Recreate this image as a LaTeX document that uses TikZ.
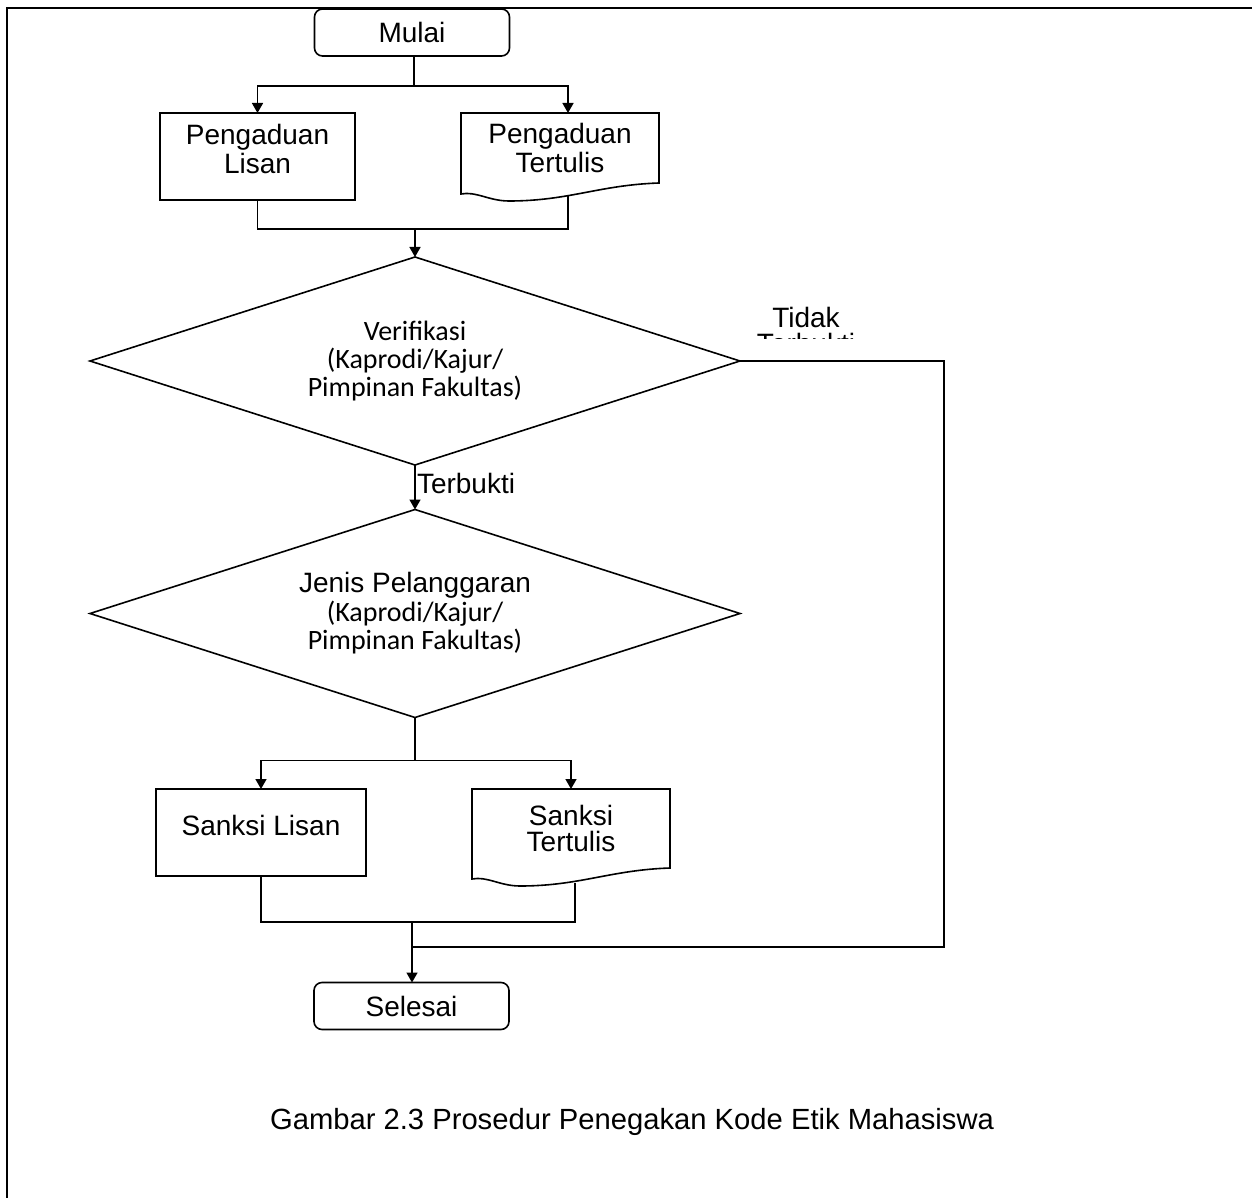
\documentclass[tikz,border=0pt]{standalone}
\usepackage{fontspec}
\setmainfont{Liberation Sans}
\newfontfamily\calfont{Carlito}
\usetikzlibrary{arrows.meta,calc,positioning,shapes.geometric}

\begin{document}
\begin{tikzpicture}[x=0.5pt,y=-0.5pt,>={Triangle[length=5pt,width=5.5pt]},line width=.8pt,
 every node/.style={inner sep=0pt,outer sep=0pt},
 txt/.style={font=\fontsize{14pt}{13pt}\selectfont,align=center},
 cal/.style={font=\calfont\fontsize{14pt}{14.2pt}\selectfont,align=center},
 term/.style={txt,draw,rounded corners=4pt,minimum width=97.5pt,minimum height=23.5pt},
 procbox/.style={txt,draw,minimum height=43.5pt,text depth=7.6pt},
 docbox/.style={txt,minimum width=99pt},
 decision/.style={cal,draw,diamond,shape aspect=3.125,minimum width=325pt,minimum height=104pt}]
 \useasboundingbox (0,0) rectangle (1252,1198);
 \draw[line width=1.25pt] (7,1198) -- (7,8) -- (1252,8);

 \node[term] (mulai) at (412,32.5) {Mulai};
 \node[procbox,minimum width=97.5pt] (plisan) at (257.5,156.5) {Pengaduan\\Lisan};
 \node[docbox,minimum height=35pt] (ptulis) at (560,148) {Pengaduan\\Tertulis};
 \node[decision] (verif) at (415,361)
  {Verifikasi\\(Kaprodi/Kajur/\\Pimpinan Fakultas)};
 \node[decision] (jenis) at (415,613.5)
  {{\fontsize{14pt}{14.2pt}\selectfont\rmfamily Jenis Pelanggaran}\\(Kaprodi/Kajur/\\Pimpinan Fakultas)};
 \node[procbox,minimum width=105pt] (slisan) at (261,832.5) {Sanksi Lisan};
 \node[docbox,minimum height=39.5pt] (stulis) at (571,828.5) {Sanksi\\Tertulis};
 \node[term] (selesai) at (411.5,1006) {Selesai};

 \foreach \n in {ptulis,stulis}{
  \draw (\n.south west) -- (\n.north west) -- (\n.north east) -- (\n.south east)
   .. controls +(-60,2) and +(60,0) .. ($(\n.south east)+(-150,18)$)
   .. controls +(-20,0) and +(15,-3) .. ($(\n.south west)+(0,11)$) -- cycle;
 }

 \coordinate (b1) at (414,86);
 \draw (mulai.south -| b1) -- (b1);
 \draw[->] (b1) -| (plisan.north);
 \draw[->] (b1) -| ([xshift=4pt]ptulis.north);
 \coordinate (m1) at (415,229);
 \draw (plisan.south) |- ($(ptulis.south)+(8,46)$) -- ($(ptulis.south)+(8,13)$);
 \draw[->] (m1) -- (verif.north);

 \draw[->] (verif.south) -- (jenis.north);
 \node[txt,anchor=west] (lterbukti) at ($(verif.south)+(2,18)$) {Terbukti};

 \coordinate (b2) at ($(jenis.south)+(0,43)$);
 \draw (jenis.south) -- (b2);
 \draw[->] (b2) -| (slisan.north);
 \draw[->] (b2) -| (stulis.north);
 \coordinate (m3) at (412,922);
 \draw (slisan.south) |- ($(stulis.south)+(4,54)$) -- ($(stulis.south)+(4,15)$);
 \draw[->] (m3) -- (m3 |- selesai.north);

 \coordinate (loop) at (944,947);
 \coordinate (m2) at (412,947);
 \draw (verif.east) -| (loop) -- (m2);
 \begin{scope}
  \clip (745,290) rectangle (900,338.5);
  \node[txt,anchor=north] (ltidak) at (806,307.5) {Tidak\\Terbukti};
 \end{scope}

 \node[font=\fontsize{14.6pt}{16pt}\selectfont] (caption) at (632,1122)
  {Gambar 2.3 Prosedur Penegakan Kode Etik Mahasiswa};
\end{tikzpicture}
\end{document}
